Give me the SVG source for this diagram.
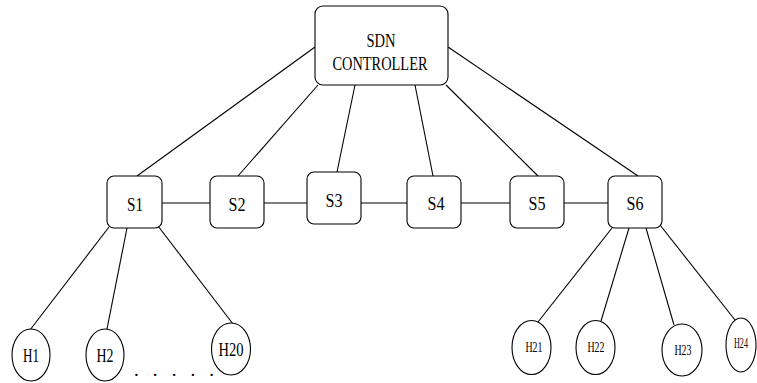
<svg xmlns="http://www.w3.org/2000/svg" width="757" height="383" viewBox="0 0 757 383">
  <style>
    .box { fill: #ffffff; stroke: #000000; stroke-width: 1.1; }
    .host { fill: #ffffff; stroke: #000000; stroke-width: 1.1; }
    .link { stroke: #000000; stroke-width: 1.1; fill: none; }
    .lbl { font-family: "Liberation Serif", "Times New Roman", serif; font-size: 19px; fill: #000000; text-anchor: middle; }
    .slbl { font-family: "Liberation Serif", "Times New Roman", serif; font-size: 14px; fill: #000000; text-anchor: middle; }
  </style>
  <rect width="757" height="383" fill="#ffffff"/>

  <!-- connectors -->
  <g id="connectors">
    <!-- controller to switches -->
    <line class="link" x1="315" y1="47" x2="137" y2="176"/>
    <line class="link" x1="318" y1="85" x2="238" y2="176"/>
    <line class="link" x1="355" y1="85" x2="337" y2="172"/>
    <line class="link" x1="415" y1="85" x2="433" y2="176"/>
    <line class="link" x1="446" y1="85" x2="538" y2="176"/>
    <line class="link" x1="448" y1="47" x2="638" y2="176"/>
    <!-- switch chain -->
    <line class="link" x1="161" y1="203" x2="210" y2="203"/>
    <line class="link" x1="264" y1="203" x2="307" y2="203"/>
    <line class="link" x1="361" y1="203" x2="407" y2="203"/>
    <line class="link" x1="461" y1="203" x2="510" y2="203"/>
    <line class="link" x1="564" y1="203" x2="608" y2="203"/>
    <!-- S1 hosts -->
    <line class="link" x1="109" y1="227" x2="30" y2="330"/>
    <line class="link" x1="127" y1="228" x2="107" y2="329"/>
    <line class="link" x1="158" y1="226" x2="233" y2="324"/>
    <!-- S6 hosts -->
    <line class="link" x1="612" y1="228" x2="538" y2="322"/>
    <line class="link" x1="629" y1="228" x2="601" y2="321"/>
    <line class="link" x1="646" y1="228" x2="674" y2="325"/>
    <line class="link" x1="660" y1="225" x2="735" y2="320"/>
  </g>

  <g id="controller">
    <rect class="box" x="315" y="6" width="133" height="79" rx="8"/>
    <text class="lbl" x="381" y="47" textLength="29" lengthAdjust="spacingAndGlyphs">SDN</text>
    <text class="lbl" x="380" y="70" textLength="95" lengthAdjust="spacingAndGlyphs">CONTROLLER</text>
  </g>

  <g id="s1">
    <rect class="box" x="107" y="176" width="55" height="52" rx="7"/>
    <text class="lbl" x="135" y="211" textLength="16" lengthAdjust="spacingAndGlyphs">S1</text>
  </g>
  <g id="s2">
    <rect class="box" x="210" y="176" width="54" height="52" rx="7"/>
    <text class="lbl" x="237" y="211" textLength="17" lengthAdjust="spacingAndGlyphs">S2</text>
  </g>
  <g id="s3">
    <rect class="box" x="307" y="172" width="54" height="52" rx="7"/>
    <text class="lbl" x="334" y="207" textLength="17" lengthAdjust="spacingAndGlyphs">S3</text>
  </g>
  <g id="s4">
    <rect class="box" x="407" y="176" width="54" height="52" rx="7"/>
    <text class="lbl" x="436" y="210" textLength="17" lengthAdjust="spacingAndGlyphs">S4</text>
  </g>
  <g id="s5">
    <rect class="box" x="510" y="176" width="54" height="52" rx="7"/>
    <text class="lbl" x="537" y="210" textLength="17" lengthAdjust="spacingAndGlyphs">S5</text>
  </g>
  <g id="s6">
    <rect class="box" x="608" y="176" width="54" height="52" rx="7"/>
    <text class="lbl" x="635" y="210" textLength="17" lengthAdjust="spacingAndGlyphs">S6</text>
  </g>

  <g id="h1">
    <ellipse class="host" cx="31" cy="355" rx="19" ry="26"/>
    <text class="lbl" x="31" y="362" textLength="16" lengthAdjust="spacingAndGlyphs">H1</text>
  </g>
  <g id="h2">
    <ellipse class="host" cx="105" cy="355" rx="19" ry="26"/>
    <text class="lbl" x="105" y="362" textLength="17" lengthAdjust="spacingAndGlyphs">H2</text>
  </g>
  <g id="h20">
    <ellipse class="host" cx="231" cy="349" rx="19.5" ry="26"/>
    <text class="lbl" x="231" y="356" textLength="25" lengthAdjust="spacingAndGlyphs">H20</text>
  </g>
  <text class="lbl" x="134" y="376" textLength="80" lengthAdjust="spacing" style="text-anchor:start">. . . . .</text>

  <g id="h21">
    <ellipse class="host" cx="531.5" cy="347.5" rx="19.5" ry="27"/>
    <text class="slbl" x="534" y="352" textLength="17" lengthAdjust="spacingAndGlyphs">H21</text>
  </g>
  <g id="h22">
    <ellipse class="host" cx="595.5" cy="347.5" rx="19.5" ry="27"/>
    <text class="slbl" x="596" y="352" textLength="17" lengthAdjust="spacingAndGlyphs">H22</text>
  </g>
  <g id="h23">
    <ellipse class="host" cx="682" cy="350" rx="20" ry="26"/>
    <text class="slbl" x="683" y="355" textLength="17" lengthAdjust="spacingAndGlyphs">H23</text>
  </g>
  <g id="h24">
    <ellipse class="host" cx="741" cy="345" rx="15" ry="27"/>
    <text class="slbl" x="741" y="348" textLength="14" lengthAdjust="spacingAndGlyphs">H24</text>
  </g>
</svg>
